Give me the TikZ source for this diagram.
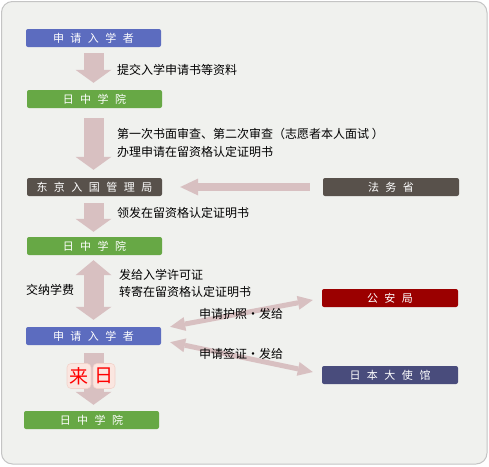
\documentclass[tikz,border=0pt]{standalone}
\usepackage{fontspec}
\newfontfamily\cjk{Noto Sans CJK SC}
\usetikzlibrary{arrows.meta}
\definecolor{arrowc}{HTML}{D8C0C1}
\definecolor{bgc}{HTML}{F0F1EE}
\definecolor{framec}{HTML}{C4C4C4}
\definecolor{bluebox}{HTML}{5C6CBF}
\definecolor{greenbox}{HTML}{67A845}
\definecolor{graybox}{HTML}{58514B}
\definecolor{redbox}{HTML}{9B0000}
\definecolor{navybox}{HTML}{494C7C}
\definecolor{tilec}{HTML}{FBE6E0}
\definecolor{tileline}{HTML}{F2D2CA}
\newcommand\bgap{\hspace{6.5pt}}
\begin{document}
\begin{tikzpicture}[x=1pt,y=-1pt,
  box/.style={minimum width=135pt, minimum height=18pt, inner sep=0pt, rounded corners=2pt, text=white, font=\cjk\fontsize{11}{12}\selectfont},
  lbl/.style={anchor=west, inner sep=0pt, font=\cjk\fontsize{12}{17.5}\selectfont, align=left},
  fat/.style={draw=arrowc, line width=20pt, -{Triangle[width=36pt,length=13pt,line width=0pt]}},
  fatboth/.style={draw=arrowc, line width=20pt, {Triangle[width=36pt,length=15pt,line width=0pt]}-{Triangle[width=36pt,length=13pt,line width=0pt]}},
  side/.style={draw=arrowc, line width=8pt, -{Triangle[width=17pt,length=18pt,line width=0pt]}},
  thin/.style={draw=arrowc, line width=5pt, {Triangle[width=14pt,length=15pt,line width=0pt]}-{Triangle[width=14pt,length=15pt,line width=0pt]}},
  tile/.style={fill=tilec, draw=tileline, line width=0.6pt, rounded corners=4pt, minimum width=24pt, minimum height=25pt, inner sep=0pt, text=red, font=\cjk\fontsize{19}{20}\selectfont}]
\useasboundingbox (0,0) rectangle (489,466);
\draw[draw=framec, fill=bgc, line width=1pt, rounded corners=11pt] (1.5,1.5) rectangle (487,464);

% boxes
\node[box, fill=bluebox] (app1) at (93.5,38) {申\bgap 请\bgap 入\bgap 学\bgap 者};
\node[box, fill=greenbox] (nz1) at (94.5,99) {日\bgap 中\bgap 学\bgap 院};
\node[box, fill=graybox] (imm) at (94.5,187) {东\bgap 京\bgap 入\bgap 国\bgap 管\bgap 理\bgap 局};
\node[box, fill=graybox, minimum width=136pt] (moj) at (391,187) {法\bgap 务\bgap 省};
\node[box, fill=greenbox] (nz2) at (94.5,246) {日\bgap 中\bgap 学\bgap 院};
\node[box, fill=redbox, minimum width=136pt] (police) at (390,298) {公\bgap 安\bgap 局};
\node[box, fill=bluebox] (app2) at (93.5,336) {申\bgap 请\bgap 入\bgap 学\bgap 者};
\node[box, fill=navybox, minimum width=136pt] (emb) at (390,375) {日\bgap 本\bgap 大\bgap 使\bgap 馆};
\node[box, fill=greenbox] (nz3) at (91.5,420) {日\bgap 中\bgap 学\bgap 院};

% connectors
\draw[fat] ([yshift=-6pt]app1.south) -- ([yshift=7pt]app1.south |- nz1.north);
\draw[fat] ([yshift=-10pt]app1.south |- nz1.south) -- ([yshift=8pt]app1.south |- imm.north);
\draw[side] ([xshift=-13pt]moj.west) -- ([xshift=18pt]imm.east);
\draw[fat] ([yshift=-7pt]app1.south |- imm.south) -- ([yshift=5pt]app1.south |- nz2.north);
\draw[fatboth] ([yshift=-5pt]app1.south |- nz2.south) -- ([yshift=7pt]app2.north);
\draw[thin] ([xshift=9pt]app2.north east) -- ([xshift=-9pt,yshift=-2pt]police.west);
\draw[thin] ([xshift=9pt,yshift=3pt]app2.south east) -- ([xshift=-9pt,yshift=3pt]emb.west);
\draw[fat] ([yshift=-8pt]app2.south) -- ([yshift=6pt]app2.south |- nz3.north);

% tiles
\node[tile] (lai) at (79,376) {来};
\node[tile, minimum width=22pt] (ri) at (104,376) {日};

% labels
\node[lbl] (l1) at (117,70) {提交入学申请书等资料};
\node[lbl] (l2) at (117,143) {第一次书面审查、第二次审查（志愿者本人面试 ）\\办理申请在留资格认定证明书};
\node[lbl] (l3) at (117,213) {领发在留资格认定证明书};
\node[lbl] (l4) at (119,283.5) {发给入学许可证\\转寄在留资格认定证明书};
\node[lbl] (l5) at (26,290) {交纳学费};
\node[lbl] (l6) at (199,314) {申请护照・发给};
\node[lbl] (l7) at (199,354) {申请签证・发给};
\end{tikzpicture}
\end{document}
